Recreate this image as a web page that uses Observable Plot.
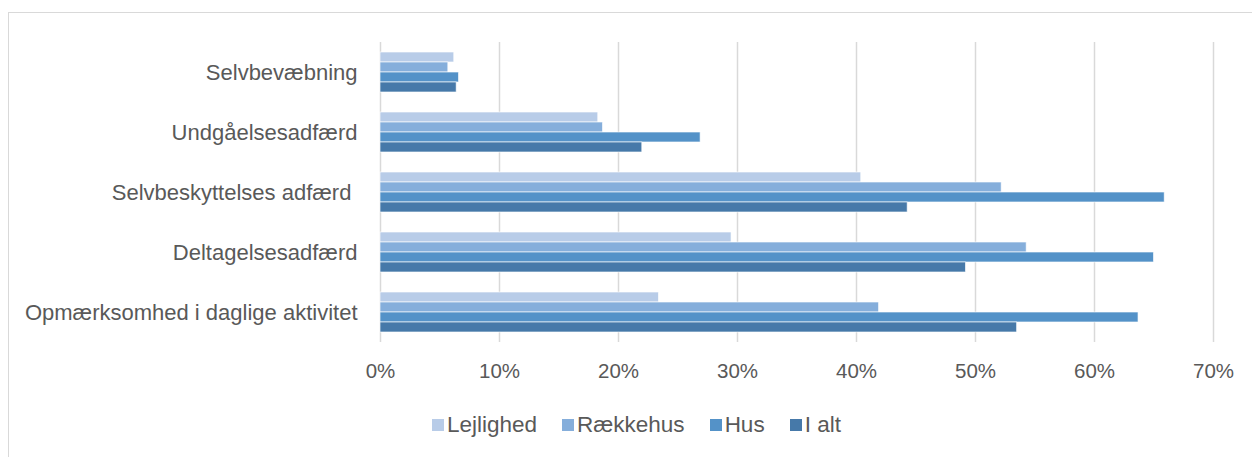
<!DOCTYPE html>
<html>
<head>
<meta charset="utf-8">
<script src="https://cdn.jsdelivr.net/npm/d3@7"></script>
<script src="https://cdn.jsdelivr.net/npm/@observablehq/plot@0.6"></script>
<style>
  html, body { margin: 0; padding: 0; background: #fff; }
  body { width: 1252px; height: 457px; position: relative; overflow: hidden; font-family: "Liberation Sans", Arial, sans-serif; }
  #frame { position: absolute; left: 8px; top: 12px; width: 1400px; height: 600px; border-left: 1px solid #d9d9d9; border-top: 1px solid #d9d9d9; }
  #chart { position: absolute; left: 0; top: 0; }
  #legend { position: absolute; left: 432px; top: 411px; display: flex; align-items: center; gap: 25px; color: #595959; font-size: 22.5px; line-height: 28px; }
  .item { display: flex; align-items: center; }
  .sw { width: 12px; height: 12px; margin-right: 3px; }
</style>
</head>
<body>
<div id="frame"></div>
<div id="chart"></div>
<div id="legend"></div>
<script>
const categories = ["Selvbevæbning", "Undgåelsesadfærd", "Selvbeskyttelses adfærd\u00a0", "Deltagelsesadfærd", "Opmærksomhed i daglige aktivitet"];
const series = ["Lejlighed", "Rækkehus", "Hus", "I alt"];
const lejlighed = [0.062, 0.183, 0.404, 0.295, 0.234];
const raekkehus = [0.057, 0.187, 0.522, 0.543, 0.419];
const hus = [0.066, 0.269, 0.659, 0.650, 0.637];
const iAlt = [0.064, 0.220, 0.443, 0.492, 0.535];
const colors = ["#b8cce8", "#85aedb", "#5492c8", "#4679a9"];
const xTicks = [0, 0.1, 0.2, 0.3, 0.4, 0.5, 0.6, 0.7];

const valuesBySeries = [lejlighed, raekkehus, hus, iAlt];
const data = [];
categories.forEach((c, i) => {
  series.forEach((s, j) => {
    data.push({category: c, series: s, value: valuesBySeries[j][i]});
  });
});

const plot = Plot.plot({
  width: 1252,
  height: 400,
  marginLeft: 380,
  marginRight: 39,
  marginTop: 40,
  marginBottom: 57,
  style: {fontFamily: "'Liberation Sans', Arial, sans-serif", background: "transparent", color: "#595959"},
  x: {domain: [0, 0.7]},
  fy: {domain: categories, padding: 0},
  y: {domain: series, paddingInner: 0, paddingOuter: 0.94, axis: null},
  color: {domain: series, range: colors},
  marks: [
    Plot.gridX(xTicks, {stroke: "#d9d9d9", strokeOpacity: 1, strokeWidth: 1.5}),
    Plot.barX(data, {x: "value", y: "series", fy: "category", fill: "series", stroke: "#ffffff", strokeWidth: 0.8, strokeOpacity: 0.8}),
    Plot.axisX(xTicks, {tickFormat: d3.format(".0%"), tickSize: 0, tickPadding: 21, fontSize: 20.5, fill: "#595959", label: null}),
    Plot.axisFy({anchor: "left", tickSize: 0, tickPadding: 23, fontSize: 22, fill: "#595959", label: null})
  ]
});
document.getElementById("chart").appendChild(plot);

const legend = document.getElementById("legend");
series.forEach((s, i) => {
  const item = document.createElement("div");
  item.className = "item";
  const sw = document.createElement("div");
  sw.className = "sw";
  sw.style.background = colors[i];
  const t = document.createElement("span");
  t.textContent = s;
  item.appendChild(sw);
  item.appendChild(t);
  legend.appendChild(item);
});
</script>
</body>
</html>
